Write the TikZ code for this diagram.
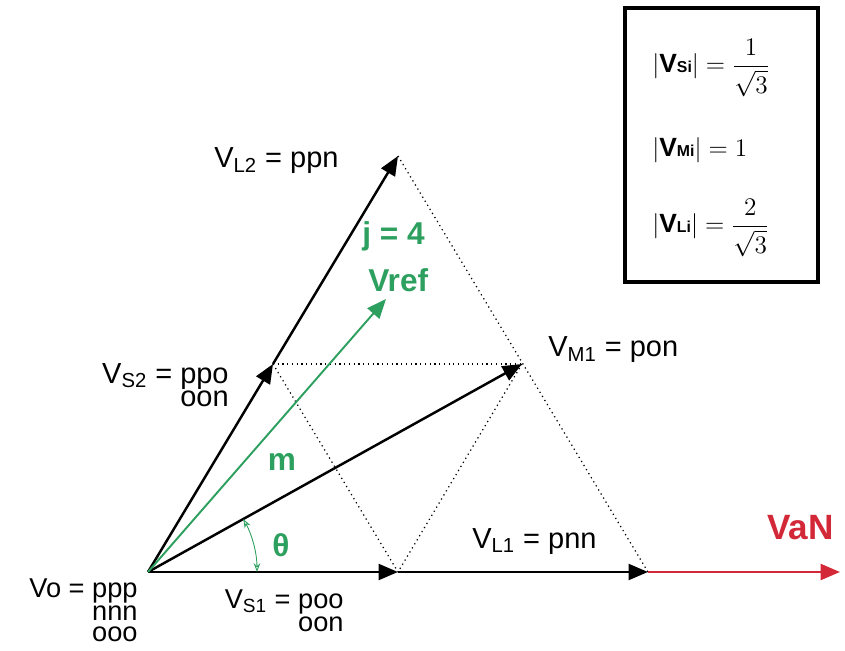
\documentclass[tikz,border=0pt]{standalone}
\usepackage{amsmath}
\usepackage{fontspec}
\setmainfont{Liberation Sans}
\usetikzlibrary{arrows.meta}
\definecolor{vgreen}{RGB}{45,160,95}
\definecolor{vred}{RGB}{210,40,55}
\newcommand\tightlines{\lineskiplimit=-50pt\relax}
\tikzset{
  >={Triangle[length=11pt,width=9pt]},
  vec/.style={->,line width=1.4pt},
  hexline/.style={dotted,line width=0.7pt},
  lbl/.style={font=\fontsize{16.5}{13}\selectfont,inner sep=0pt},
  tight/.style={font=\fontsize{15.5}{11.2}\selectfont\tightlines,inner sep=0pt,align=right},
  glbl/.style={font=\fontsize{18}{20}\bfseries\selectfont,text=vgreen,inner sep=0pt},
  eq/.style={font=\fontsize{15}{17}\selectfont,inner sep=0pt,anchor=west},
}

\begin{document}
\begin{tikzpicture}[x=0.02cm,y=-0.02cm]
\useasboundingbox (0,0) rectangle (845,651);
\coordinate (O) at (148,572); \coordinate (S1) at (398,572); \coordinate (L1) at (648,572);
\coordinate (S2) at (273,364); \coordinate (M1) at (522,364); \coordinate (L2) at (398,156);
\coordinate (R) at (386,299); \coordinate (E) at (840,572);
\coordinate (A0) at (257,572);
% sector lines
\draw[hexline] (L2)--(L1); \draw[hexline] (S2)--(M1);
\draw[hexline] (S2)--(S1); \draw[hexline] (M1)--(S1);
% space vectors
\draw[vec] (O)--(S1); \draw[vec] (S1)--(L1);
\draw[vec] (O)--(S2); \draw[vec] (S2)--(L2);
\draw[vec] (O)--(M1);
\draw[->,vgreen,line width=1.1pt] (O)--(R);
\draw[->,vred,line width=1.6pt] (L1)--(E);
\draw[{Stealth[open,length=5pt]}-{Stealth[open,length=5pt]},vgreen,line width=0.5pt] (A0) arc[start angle=0,end angle=-29,radius=109];
% labels
\node[lbl,anchor=base west] (tL2) at (214,168) {V\textsubscript{L2} = ppn};
\node[lbl,anchor=north east,align=right] (tS2) at (229,363) {V\textsubscript{S2} = ppo\\oon};
\node[lbl,anchor=base west] (tM1) at (548,357) {V\textsubscript{M1} = pon};
\node[lbl,anchor=base west] (tL1) at (472,548) {V\textsubscript{L1} = pnn};
\node[tight,anchor=north east] (tS1) at (344,589) {V\textsubscript{S1} = poo\\[2pt]oon};
\node[tight,anchor=north east] (tO) at (138,578) {Vo = ppp\\[2pt]nnn\\[1pt]ooo};
\node[glbl,anchor=west] (tj) at (362,236) {j = 4};
\node[glbl,anchor=west] (tref) at (368,280) {Vref};
\node[glbl] (tm) at (282,462) {m};
\node[glbl] (tth) at (281,545) {θ};
\node[font=\fontsize{20}{22}\bfseries\selectfont,text=vred,inner sep=0pt,anchor=west] (tvan) at (767,528) {VaN};
% magnitudes
\node[draw,line width=2.2pt,minimum width=3.86cm,minimum height=5.48cm,inner sep=0pt] (box) at (721.5,145) {};
\node[eq] (eS) at (652,68) {$|\textbf{V}\text{\small\bfseries Si}| = \dfrac{1}{\sqrt{3}}$};
\node[eq] (eM) at (652,150) {$|\textbf{V}\text{\small\bfseries Mi}| = 1$};
\node[eq] (eL) at (652,228) {$|\textbf{V}\text{\small\bfseries Li}| = \dfrac{2}{\sqrt{3}}$};
\end{tikzpicture}
\end{document}
